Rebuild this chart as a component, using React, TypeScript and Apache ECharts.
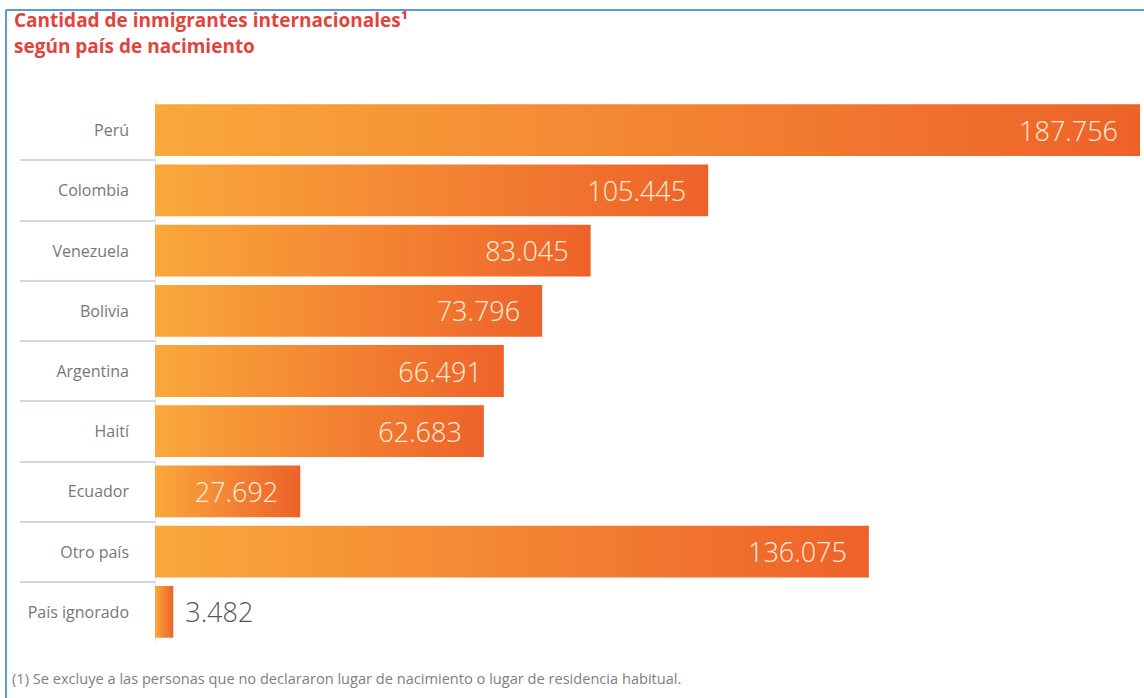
import React, { useEffect, useRef } from "react";
import * as echarts from "echarts";

const categories = [
  "Perú",
  "Colombia",
  "Venezuela",
  "Bolivia",
  "Argentina",
  "Haití",
  "Ecuador",
  "Otro país",
  "País ignorado",
];
const values = [187756, 105445, 83045, 73796, 66491, 62683, 27692, 136075, 3482];
const titleLines = ["Cantidad de inmigrantes internacionales¹", "según país de nacimiento"];
const footnote =
  "(1) Se excluye a las personas que no declararon lugar de nacimiento o lugar de residencia habitual.";

const fmt = (v: number) => v.toLocaleString("de-DE");

export default function App() {
  const ref = useRef<HTMLDivElement>(null);
  useEffect(() => {
    if (!ref.current) return;
    const chart = echarts.init(ref.current, null, { renderer: "svg" });
    const grad = new echarts.graphic.LinearGradient(0, 0, 1, 0, [
      { offset: 0, color: "#f9a83b" },
      { offset: 1, color: "#ee622a" },
    ]);
    const maxV = values[0];
    const titleStyle = {
      fill: "#e0453d",
      fontSize: 19,
      fontWeight: "bold",
      fontFamily: "'Open Sans', sans-serif",
    };
    chart.setOption({
      animation: false,
      backgroundColor: "#ffffff",
      textStyle: { fontFamily: "'Open Sans', 'Noto Sans', sans-serif" },
      graphic: [
        {
          type: "line",
          shape: { x1: 6, y1: 10, x2: 1144, y2: 10 },
          style: { stroke: "#5b9bd5", lineWidth: 2 },
        },
        {
          type: "line",
          shape: { x1: 6, y1: 10, x2: 6, y2: 698 },
          style: { stroke: "#5b9bd5", lineWidth: 2 },
        },
        {
          type: "text",
          left: 14,
          top: 10,
          style: { text: titleLines[0], ...titleStyle },
        },
        {
          type: "text",
          left: 14,
          top: 36,
          style: { text: titleLines[1], ...titleStyle },
        },
        {
          type: "text",
          left: 12,
          top: 670,
          style: {
            text: footnote,
            fill: "#808080",
            fontSize: 14.6,
            fontFamily: "'Open Sans', sans-serif",
          },
        },
      ],
      grid: [
        { left: 155, right: 4, top: 100, bottom: 56, containLabel: false },
        { left: 20, width: 135, top: 100, bottom: 56, containLabel: false },
      ],
      xAxis: [
        { type: "value", gridIndex: 0, min: 0, max: maxV, show: false },
        { type: "value", gridIndex: 1, min: 0, max: 1, show: false },
      ],
      yAxis: [
        {
          type: "category",
          gridIndex: 0,
          data: categories,
          inverse: true,
          axisLine: { show: true, lineStyle: { color: "#e4e6ea", width: 1 } },
          axisTick: { show: false },
          axisLabel: {
            color: "#777777",
            fontSize: 16,
            margin: 26,
            fontFamily: "'Open Sans', sans-serif",
          },
          splitLine: { show: false },
        },
        {
          type: "category",
          gridIndex: 1,
          data: categories,
          inverse: true,
          axisLine: { show: false },
          axisTick: { show: false },
          axisLabel: { show: false },
          splitLine: {
            show: true,
            showMinLine: false,
            showMaxLine: false,
            lineStyle: { color: "#d3d8df", width: 2 },
          },
        },
      ],
      series: [
        {
          type: "bar",
          xAxisIndex: 0,
          yAxisIndex: 0,
          data: values.map((v, i) => ({
            value: v,
            label:
              i === values.length - 1
                ? {
                    position: "right",
                    distance: 12,
                    color: "#555555",
                  }
                : undefined,
          })),
          barCategoryGap: "14%",
          itemStyle: { color: grad },
          label: {
            show: true,
            position: "insideRight",
            distance: 22,
            color: "#fdf0dc",
            fontSize: 27,
            fontWeight: 300,
            fontFamily: "'Open Sans', sans-serif",
            formatter: (p: any) => fmt(p.value),
          },
        },
      ],
    });
    return () => chart.dispose();
  }, []);
  return (
    <div
      ref={ref}
      style={{ position: "fixed", left: 0, top: 0, width: 1144, height: 698 }}
    />
  );
}
